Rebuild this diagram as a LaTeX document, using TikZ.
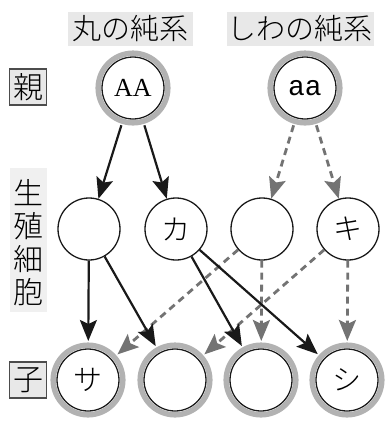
\documentclass[tikz,border=0pt]{standalone}
\usepackage{fontspec}
\newfontfamily\jp{Noto Sans CJK JP}[UprightFont={* Light}]
\newfontfamily\mono{Liberation Mono}
\newfontfamily\serif{Liberation Serif}
\usepackage{xcolor}
\usepackage{tikz}
\usetikzlibrary{arrows.meta, positioning, calc}

\begin{document}
\begin{tikzpicture}[x=1pt, y=-1pt,
  gamete/.style={circle, draw=black!90, line width=1.3pt, fill=white, minimum size=62pt, inner sep=0pt, font=\jp\fontsize{29}{29}\selectfont},
  ringed/.style={gamete, outer sep=8pt},
  ring/.style={draw=black!30, line width=5.5pt},
  strain/.style={fill=black!9, minimum height=34pt, inner sep=0pt, font=\jp\fontsize{29}{29}\selectfont},
  gen/.style={draw=black!70, line width=1.2pt, fill=black!9, minimum width=37pt, minimum height=36pt, inner sep=0pt, font=\jp\fontsize{30}{30}\selectfont},
  solidarr/.style={draw=black!90, line width=2.2pt, -{Stealth[length=21pt,width=17pt,inset=4pt]}},
  dasharr/.style={draw=black!55, line width=2.8pt, dash pattern=on 7pt off 5pt, -{Stealth[length=21pt,width=17pt,inset=4pt]}}
]
  \useasboundingbox (0,0) rectangle (391,421);

  % Strain labels
  \node[strain, minimum width=125pt] (round) at (130,29) {丸の純系};
  \node[strain, minimum width=147pt] (wrinkled) at (300,29) {しわの純系};

  % Generation labels
  \node[gen] (oya) at (28,87) {親};
  \node[gen] (ko) at (28,380) {子};
  \fill[black!6] (10,168) rectangle (47,312);
  \node[align=center, inner sep=0pt, font=\jp\fontsize{30}{33}\selectfont] (sei) at (28,243) {生\\殖\\細\\胞};

  % Parents
  \node[ringed, font=\serif\fontsize{26}{26}\selectfont] (AA) at (133,88) {AA};
  \node[ringed, font=\mono\fontsize{28}{28}\selectfont] (aa) at (305,88) {aa};

  % Gametes
  \node[gamete] (g1) at (89,229) {};
  \node[gamete] (g2) at (176,229) {カ};
  \node[gamete] (g3) at (262,229) {};
  \node[gamete] (g4) at (348,229) {キ};

  % Children
  \node[ringed] (c1) at (88,380) {サ};
  \node[ringed] (c2) at (175,380) {};
  \node[ringed] (c3) at (261,380) {};
  \node[ringed] (c4) at (347,380) {シ};

  % Grey rings
  \foreach \n in {AA,aa,c1,c2,c3,c4}
    \draw[ring] (\n.center) circle (34.8);

  % Parents to gametes
  \draw[solidarr] (AA) -- (g1);
  \draw[solidarr] (AA) -- (g2);
  \draw[dasharr] (aa) -- (g3);
  \draw[dasharr] (aa) -- (g4);

  % Gametes to children
  \draw[dasharr] (g3) -- (c1);
  \draw[dasharr] (g3) -- (c3);
  \draw[dasharr] (g4) -- (c2);
  \draw[dasharr] (g4) -- (c4);
  \draw[solidarr] (g1) -- (c1);
  \draw[solidarr] (g1) -- (c2);
  \draw[solidarr] (g2) -- (c3);
  \draw[solidarr] (g2) -- (c4);
\end{tikzpicture}
\end{document}
